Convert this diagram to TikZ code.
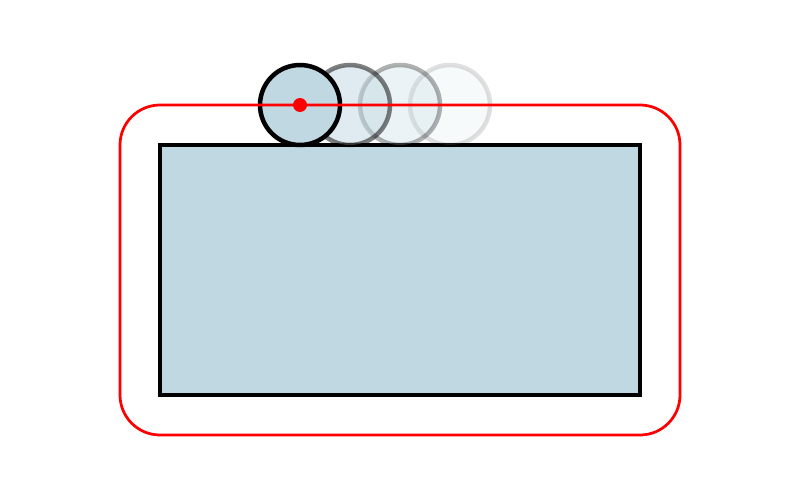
\documentclass[tikz,border=0pt]{standalone}
\usepackage{xcolor}
\definecolor{lightblue}{RGB}{192,216,225}
\begin{document}
\begin{tikzpicture}[x = 0.02cm, y = -0.02cm,
		body/.style = { draw = black, line width = 0.09cm, fill = lightblue },
		ghost/.style = { draw = black, line width = 0.09cm, fill = lightblue, draw opacity = #1, fill opacity = #1 },
		path/.style = { draw = red, line width = 0.055cm, rounded corners = 0.8cm }]
		\useasboundingbox (0, 0) rectangle (800, 500);

		\draw [body] (160, 145) rectangle (640, 395);

		% the rolling ball, faded copies first
		\draw [ghost = 0.12] (450, 105) circle [radius = 40];
		\draw [ghost = 0.3]  (400, 105) circle [radius = 40];
		\draw [ghost = 0.5]  (350, 105) circle [radius = 40];
		\draw [body]         (300, 105) circle [radius = 40];

		\draw [path] (120, 105) rectangle (680, 435);
		\fill [red] (300, 105) circle [radius = 7];
	\end{tikzpicture}
\end{document}
